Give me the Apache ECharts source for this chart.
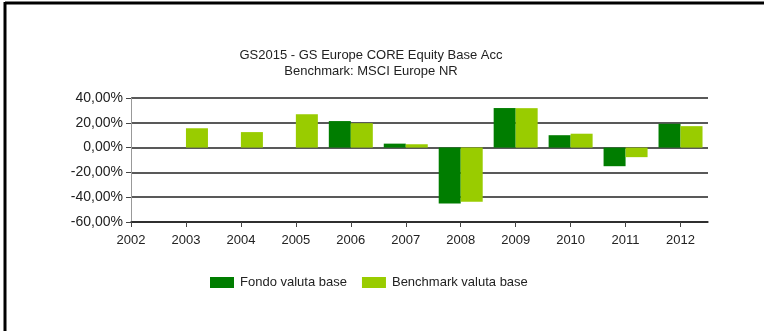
<!DOCTYPE html>
<html>
<head>
<meta charset="utf-8">
<script src="https://cdn.jsdelivr.net/npm/echarts@6/dist/echarts.min.js"></script>
<style>
html,body{margin:0;padding:0;background:#fff;}
#chart{width:764px;height:331px;}
</style>
</head>
<body>
<div id="chart"></div>
<script>
var titleLine1 = 'GS2015 - GS Europe CORE Equity Base Acc';
var titleLine2 = 'Benchmark: MSCI Europe NR';
var seriesNames = ['Fondo valuta base', 'Benchmark valuta base'];
var xTicks = [2002, 2003, 2004, 2005, 2006, 2007, 2008, 2009, 2010, 2011, 2012];
var years = [2003, 2004, 2005, 2006, 2007, 2008, 2009, 2010, 2011, 2012];
var fondo = [null, null, null, 21.4, 3.2, -45.0, 31.9, 10.0, -15.0, 19.2];
var benchmark = [15.6, 12.5, 26.9, 19.7, 2.7, -43.7, 31.8, 11.2, -7.7, 17.3];
var yTicks = [-60, -40, -20, 0, 20, 40];

function pairs(vals) {
  return years.map(function (y, i) { return [y, vals[i]]; });
}

var chart = echarts.init(document.getElementById('chart'));
var font = '"Liberation Sans", Arial, sans-serif';
chart.setOption({
  animation: false,
  backgroundColor: '#fff',
  title: {
    text: titleLine1 + '\n' + titleLine2,
    left: 371, top: 47, textAlign: 'center', padding: 0,
    textStyle: { fontFamily: font, fontSize: 13, fontWeight: 'normal', color: '#222', lineHeight: 16 }
  },
  graphic: [
    { type: 'line', shape: { x1: 5, y1: 3, x2: 764, y2: 3 }, style: { stroke: '#000', lineWidth: 3 } },
    { type: 'line', shape: { x1: 5, y1: 2, x2: 5, y2: 331 }, style: { stroke: '#000', lineWidth: 3 } }
  ],
  legend: {
    left: 205, top: 271,
    itemWidth: 24, itemHeight: 11, itemGap: 15,
    icon: 'rect',
    textStyle: { fontFamily: font, fontSize: 13, color: '#222', padding: [0, 0, 0, 1] },
    data: seriesNames
  },
  grid: { left: 131, right: 56, top: 98, bottom: 109, containLabel: false },
  xAxis: {
    type: 'value', min: 2002, max: 2012.5, interval: 1,
    axisLine: { show: true, onZero: false, lineStyle: { color: '#222', width: 1.5 } },
    axisTick: { show: true, length: 5, customValues: xTicks, lineStyle: { color: '#444' } },
    splitLine: { show: false },
    axisLabel: {
      fontFamily: font, fontSize: 13, color: '#222', margin: 12,
      customValues: xTicks,
      formatter: function (v) { return String(v); }
    }
  },
  yAxis: {
    type: 'value', min: yTicks[0], max: yTicks[yTicks.length - 1], interval: 20,
    axisLine: { show: true, lineStyle: { color: '#999', width: 1 } },
    axisTick: { show: true, length: 5, lineStyle: { color: '#444' } },
    splitLine: { show: true, lineStyle: { color: '#222', width: 1.5 } },
    axisLabel: {
      fontFamily: font, fontSize: 14, color: '#222', margin: 8,
      formatter: function (v) { return v.toFixed(2).replace('.', ',') + '%'; }
    }
  },
  series: [
    { name: seriesNames[0], type: 'bar', data: pairs(fondo), barWidth: 22, barGap: '0%', itemStyle: { color: '#007d00' } },
    { name: seriesNames[1], type: 'bar', data: pairs(benchmark), barWidth: 22, barGap: '0%', itemStyle: { color: '#99cc00' } }
  ]
});
</script>
</body>
</html>
